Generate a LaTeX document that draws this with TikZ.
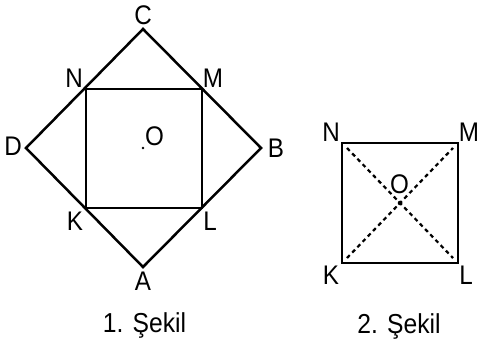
\documentclass[tikz,border=0pt]{standalone}
\usepackage{fontspec}
\setmainfont{Liberation Sans}
\newfontfamily\lblfont[FakeStretch=0.9]{Liberation Sans}
\usetikzlibrary{calc}
\begin{document}
\begin{tikzpicture}[x=1bp,y=-1bp,
  edge/.style={line width=2.5bp, line join=miter},
  diag/.style={line width=2.2bp, dash pattern=on 4bp off 3.5bp},
  lbl/.style={font=\lblfont\fontsize{27}{27}\selectfont, inner sep=0pt, anchor=base},
  captext/.style={font=\lblfont\fontsize{27.5}{27.5}\selectfont, inner sep=0pt, anchor=base}]
\useasboundingbox (0,0) rectangle (478,341);
% Figure 1
\coordinate (C) at (143,29);
\coordinate (D) at (26,148);
\coordinate (A) at (143,267);
\coordinate (B) at (261,148);
\coordinate (N) at (86,89);
\coordinate (M) at (202,89);
\coordinate (L) at (202,208);
\coordinate (K) at (86,208);
\coordinate (O) at (143,148);
\draw[edge] (C) -- (B) -- (A) -- (D) -- cycle;
\draw[edge] (N) -- (M) -- (L) -- (K) -- cycle;
\fill (O) circle (1.3bp);
\node[lbl] (lC) at (143,24) {C};
\node[lbl] (lN) at (74,87) {N};
\node[lbl] (lM) at (213,87) {M};
\node[lbl] (lD) at (13,155) {D};
\node[lbl] (lB) at (276,157) {B};
\node[lbl] (lK) at (75,230) {K};
\node[lbl] (lL) at (210,230) {L};
\node[lbl] (lA) at (143,290) {A};
\node[lbl] (lO) at (154.5,145) {O};
\node[captext] (cap1) at (144.5,332) {1. Şekil};
% Figure 2
\coordinate (N2) at (342,143);
\coordinate (M2) at (458,143);
\coordinate (L2) at (458,263);
\coordinate (K2) at (342,263);
\coordinate (O2) at (400,203);
\draw[edge] (N2) -- (M2) -- (L2) -- (K2) -- cycle;
\draw[diag] ($(N2)+(5,5)$) -- ($(L2)+(-5,-5)$);
\draw[diag] ($(K2)+(5,-5)$) -- ($(M2)+(-5,5)$);
\fill (O2) circle (2.3bp);
\node[lbl] (lN2) at (331,141) {N};
\node[lbl] (lM2) at (469,141) {M};
\node[lbl] (lK2) at (331,284) {K};
\node[lbl] (lL2) at (466,284) {L};
\node[lbl] (lO2) at (399.5,193) {O};
\node[captext] (cap2) at (399,333) {2. Şekil};
\end{tikzpicture}
\end{document}
